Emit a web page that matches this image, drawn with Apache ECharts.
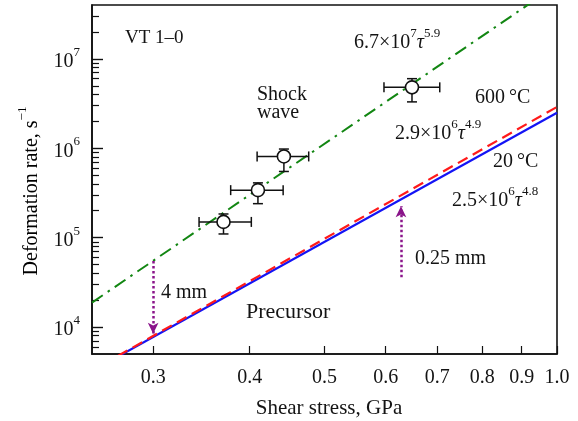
<!DOCTYPE html>
<html>
<head>
<meta charset="utf-8">
<script src="https://cdn.jsdelivr.net/npm/echarts@6/dist/echarts.min.js"></script>
<style>
  html, body { margin: 0; padding: 0; background: #fff; }
  #chart { width: 578px; height: 421px; }
</style>
</head>
<body>
<div id="chart"></div>
<script>
// Axis ranges (GPa, s^-1)
const stressRange = [0.25, 1.0];
const rateRange = [5e3, 4e7];

// Tick values
const stressTicks = [0.3, 0.4, 0.5, 0.6, 0.7, 0.8, 0.9, 1.0];
const rateDecades = [1e4, 1e5, 1e6, 1e7];
const rateMinorTicks = [
  6e3, 7e3, 8e3, 9e3,
  2e4, 3e4, 4e4, 5e4, 6e4, 7e4, 8e4, 9e4,
  2e5, 3e5, 4e5, 5e5, 6e5, 7e5, 8e5, 9e5,
  2e6, 3e6, 4e6, 5e6, 6e6, 7e6, 8e6, 9e6,
  2e7, 3e7
];

// Shock-wave measurements with error bars
const shockStress     = [0.370, 0.410, 0.443, 0.649];
const shockRate       = [1.5e5, 3.4e5, 8.1e5, 4.8e6];
const shockStressLow  = [0.344, 0.378, 0.409, 0.597];
const shockStressHigh = [0.402, 0.442, 0.477, 0.705];
const shockRateLow    = [1.1e5, 2.4e5, 5.5e5, 3.3e6];
const shockRateHigh   = [1.84e5, 4.1e5, 9.8e5, 6.0e6];

// Power-law fits (straight on log-log axes), end points
const fitShockStress = [0.25, 1.0];
const fitShockRate   = [1.88e4, 6.7e7];   // 6.7e7 * tau^5.9
const fit600Stress   = [0.27, 1.0];
const fit600Rate     = [4.75e3, 2.9e6];   // 2.9e6 * tau^4.9
const fit20Stress    = [0.27, 1.0];
const fit20Rate      = [4.67e3, 2.5e6];   // 2.5e6 * tau^4.8

// Arrows: sample thickness 4 mm and 0.25 mm
const arrow4mmStress  = [0.3, 0.3];
const arrow4mmRate    = [5.5e4, 8.4e3];
const arrow025Stress  = [0.628, 0.628];
const arrow025Rate    = [3.6e4, 2.25e5];

const lg = Math.log10;
const pairs = (xs, ys) => xs.map((x, i) => [lg(x), lg(ys[i])]);

const FONT = 'Liberation Serif';
const INK = '#141414';
const GREEN = '#128612';
const RED = '#ff1a1a';
const BLUE = '#1414f5';
const PURPLE = '#8a148a';

const chart = echarts.init(document.getElementById('chart'), null, { renderer: 'canvas' });

const plotRect = { left: 92, right: 21, top: 5, bottom: 67 };

const xBase = {
  type: 'value',
  min: lg(stressRange[0]),
  max: lg(stressRange[1]),
  splitLine: { show: false }
};
const yBase = {
  type: 'value',
  min: lg(rateRange[0]),
  max: lg(rateRange[1]),
  splitLine: { show: false }
};

const supRich = {
  b: { fontFamily: FONT, fontSize: 20, color: INK, verticalAlign: 'bottom', lineHeight: 26 },
  s: { fontFamily: FONT, fontSize: 13, color: INK, verticalAlign: 'top', lineHeight: 26 },
  t: { fontFamily: FONT, fontSize: 20, fontStyle: 'italic', color: INK, verticalAlign: 'bottom', lineHeight: 26 }
};

function textAt(x, y, text, opts) {
  return {
    type: 'text',
    x: x, y: y,
    style: Object.assign({
      text: text,
      fontFamily: FONT,
      fontSize: 20,
      fill: INK,
      align: 'left',
      verticalAlign: 'middle',
      rich: supRich
    }, opts || {})
  };
}

const errorData = shockStress.map((x, i) => [
  lg(x), lg(shockRate[i]),
  lg(shockStressLow[i]), lg(shockStressHigh[i]),
  lg(shockRateLow[i]), lg(shockRateHigh[i])
]);

const option = {
  animation: false,
  backgroundColor: '#fff',
  grid: [
    Object.assign({ show: true, borderColor: '#111', borderWidth: 1.6, backgroundColor: 'transparent' }, plotRect),
    Object.assign({ show: false }, plotRect)
  ],
  xAxis: [
    Object.assign({}, xBase, {
      gridIndex: 0,
      axisLine: { show: true, onZero: false, lineStyle: { color: '#111', width: 1.6 } },
      axisTick: {
        show: true, inside: true, length: 8,
        customValues: stressTicks.map(lg),
        lineStyle: { color: '#111', width: 1.2 }
      },
      axisLabel: {
        customValues: stressTicks.map(lg),
        formatter: v => Math.pow(10, v).toFixed(1),
        fontFamily: FONT, fontSize: 20, color: INK, margin: 14
      }
    }),
    Object.assign({}, xBase, { gridIndex: 1, show: false })
  ],
  yAxis: [
    Object.assign({}, yBase, {
      gridIndex: 0,
      axisLine: { show: true, onZero: false, lineStyle: { color: '#111', width: 1.6 } },
      axisTick: {
        show: true, inside: true, length: 11,
        customValues: rateDecades.map(lg),
        lineStyle: { color: '#111', width: 1.4 }
      },
      axisLabel: {
        customValues: rateDecades.map(lg),
        formatter: v => '{b|10}{s|' + Math.round(v) + '}',
        rich: supRich,
        margin: 12
      }
    }),
    // minor decade subdivisions on a twin axis sharing the same plot rectangle
    Object.assign({}, yBase, {
      gridIndex: 1,
      position: 'left',
      axisLine: { show: false, onZero: false },
      axisTick: {
        show: true, inside: true, length: 7,
        customValues: rateMinorTicks.map(lg),
        lineStyle: { color: '#111', width: 1.2 }
      },
      axisLabel: { show: false }
    })
  ],
  graphic: [
    // axis titles
    textAt(329, 408, 'Shear stress, GPa', { align: 'center', fontSize: 21 }),
    {
      type: 'text', x: 29, y: 191, rotation: Math.PI / 2,
      style: {
        text: '{b|Deformation rate, s}{s|\u22121}',
        align: 'center', verticalAlign: 'middle',
        rich: supRich
      }
    },
    // annotations
    textAt(125, 38, 'VT 1\u20130', { fontSize: 19 }),
    textAt(354, 40, '{b|6.7\u00d710}{s|7}{t|\u03c4}{s|5.9}'),
    textAt(257, 95, 'Shock'),
    textAt(257, 113, 'wave'),
    textAt(475, 98, '600\u2009\u00b0C'),
    textAt(395, 131, '{b|2.9\u00d710}{s|6}{t|\u03c4}{s|4.9}'),
    textAt(493, 162, '20\u2009\u00b0C'),
    textAt(452, 198, '{b|2.5\u00d710}{s|6}{t|\u03c4}{s|4.8}'),
    textAt(415, 259, '0.25 mm'),
    textAt(161, 293, '4 mm'),
    textAt(246, 312, 'Precursor', { fontSize: 22 })
  ],
  series: [
    {
      name: 'shock fit',
      type: 'line',
      data: pairs(fitShockStress, fitShockRate),
      showSymbol: false, symbol: 'none',
      lineStyle: { color: GREEN, width: 2, type: [13, 6, 2.5, 6] },
      z: 2
    },
    {
      name: '20 C fit',
      type: 'line',
      data: pairs(fit20Stress, fit20Rate),
      showSymbol: false, symbol: 'none',
      lineStyle: { color: BLUE, width: 2.2 },
      z: 2
    },
    {
      name: '600 C fit',
      type: 'line',
      data: pairs(fit600Stress, fit600Rate),
      showSymbol: false, symbol: 'none',
      lineStyle: { color: RED, width: 2.2, type: [11, 6] },
      z: 3
    },
    {
      name: 'arrows',
      type: 'line',
      data: [],
      markLine: {
        silent: true,
        symbol: ['none', 'arrow'],
        symbolSize: [8, 11],
        label: { show: false },
        lineStyle: { color: PURPLE, width: 2.5, type: [2.5, 2.5] },
        data: [
          [{ coord: [lg(arrow4mmStress[0]), lg(arrow4mmRate[0])] },
           { coord: [lg(arrow4mmStress[1]), lg(arrow4mmRate[1])] }],
          [{ coord: [lg(arrow025Stress[0]), lg(arrow025Rate[0])] },
           { coord: [lg(arrow025Stress[1]), lg(arrow025Rate[1])] }]
        ]
      },
      z: 4
    },
    {
      name: 'error bars',
      type: 'custom',
      data: errorData,
      encode: { x: [0, 2, 3], y: [1, 4, 5] },
      renderItem: function (params, api) {
        const c = api.coord([api.value(0), api.value(1)]);
        const l = api.coord([api.value(2), api.value(1)]);
        const r = api.coord([api.value(3), api.value(1)]);
        const b = api.coord([api.value(0), api.value(4)]);
        const t = api.coord([api.value(0), api.value(5)]);
        const h = 5;
        const st = { stroke: '#111', lineWidth: 1.5, fill: null };
        const seg = (x1, y1, x2, y2) => ({ type: 'line', shape: { x1, y1, x2, y2 }, style: st });
        return {
          type: 'group',
          children: [
            seg(l[0], l[1], r[0], r[1]),
            seg(l[0], l[1] - h, l[0], l[1] + h),
            seg(r[0], r[1] - h, r[0], r[1] + h),
            seg(c[0], b[1], c[0], t[1]),
            seg(c[0] - h, b[1], c[0] + h, b[1]),
            seg(c[0] - h, t[1], c[0] + h, t[1])
          ]
        };
      },
      z: 5
    },
    {
      name: 'shock wave',
      type: 'scatter',
      data: pairs(shockStress, shockRate),
      symbol: 'circle',
      symbolSize: 13,
      itemStyle: { color: '#fff', borderColor: '#111', borderWidth: 1.6, opacity: 1 },
      z: 6
    }
  ]
};

chart.setOption(option);
</script>
</body>
</html>
